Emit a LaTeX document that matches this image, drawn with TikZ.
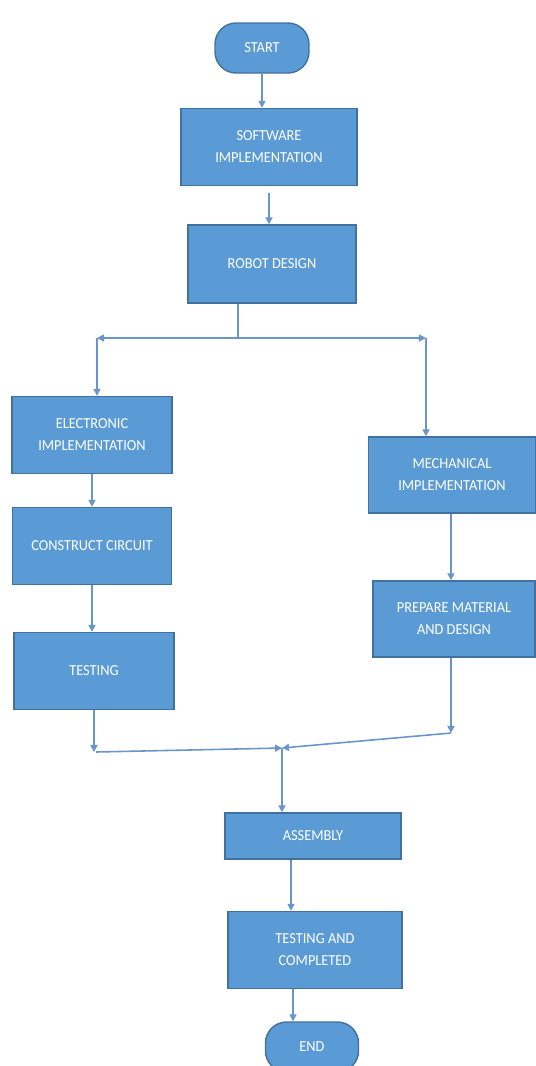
\documentclass[tikz,border=0pt]{standalone}
\usepackage{fontspec}
\setmainfont{Carlito}[FakeStretch=0.94]
\usepackage{tikz}
\usetikzlibrary{arrows.meta}

\definecolor{boxblue}{HTML}{5B9BD5}
\definecolor{boxedge}{HTML}{41719C}
\definecolor{lineblue}{HTML}{6A95C8}

\begin{document}
\begin{tikzpicture}[x=0.02cm, y=-0.02cm,
  box/.style={draw=boxedge, line width=0.8pt, fill=boxblue, text=white,
              align=center, font=\fontsize{8.7}{12.5}\selectfont, inner sep=0pt},
  term/.style={box, rounded corners=12pt},
  arr/.style={draw=lineblue, line width=0.9pt, -{Triangle[length=4pt,width=4pt]}},
  lin/.style={draw=lineblue, line width=0.9pt}]
\useasboundingbox (0,0) rectangle (536,1066);
\fill[white] (0,0) rectangle (536,1066);

\node [term, minimum width=1.88cm, minimum height=1.0cm]  (start) at (262,48)  {START};
\node [box, minimum width=3.52cm, minimum height=1.54cm]  (soft)  at (269,147) {SOFTWARE\\IMPLEMENTATION};
\node [box, minimum width=3.36cm, minimum height=1.56cm]  (robot) at (272,264) {ROBOT DESIGN};
\node [box, minimum width=3.2cm, minimum height=1.54cm]   (elec)  at (92,435)  {ELECTRONIC\\IMPLEMENTATION};
\node [box, minimum width=3.18cm, minimum height=1.54cm]  (cons)  at (92,546)  {CONSTRUCT CIRCUIT};
\node [box, minimum width=3.2cm, minimum height=1.54cm]   (test)  at (94,671)  {TESTING};
\node [box, minimum width=3.34cm, minimum height=1.52cm]  (mech)  at (452,475) {MECHANICAL\\IMPLEMENTATION};
\node [box, minimum width=3.24cm, minimum height=1.52cm]  (prep)  at (454,619) {PREPARE MATERIAL\\AND DESIGN};
\node [box, minimum width=3.52cm, minimum height=0.92cm]  (asm)   at (313,836) {ASSEMBLY};
\node [box, minimum width=3.48cm, minimum height=1.54cm]  (tc)    at (315,950) {TESTING AND\\COMPLETED};
\node [term, minimum width=1.86cm, minimum height=1.0cm]  (end)   at (312,1047) {END};

\coordinate (split)  at (238,338);
\coordinate (splitL) at (97,338);
\coordinate (splitR) at (426,338);
\coordinate (mergeL) at (96,752);
\coordinate (mergeR) at (451,733);
\coordinate (merge)  at (282,748);

\draw [arr] (start.south) -- (start.south |- soft.north);
\draw [arr] ([yshift=-0.14cm]soft.south) -- (soft.south |- robot.north);
\draw [lin] (split |- robot.south) -- (split);
\draw [arr] (split) -- (splitL);
\draw [arr] (split) -- (splitR);
\draw [arr] (splitL) -- (splitL |- elec.north);
\draw [arr] (splitR) -- (splitR |- mech.north);
\draw [arr] (elec.south) -- (cons.north);
\draw [arr] (cons.south) -- (cons.south |- test.north);
\draw [arr] (test.south) -- (test.south |- mergeL);
\draw [arr] (mergeR |- mech.south) -- (mergeR |- prep.north);
\draw [arr] (prep.south -| mergeR) -- (mergeR);
\draw [arr] (mergeL) -- (merge);
\draw [arr] (mergeR) -- (merge);
\draw [arr] (merge) -- (merge |- asm.north);
\draw [arr] ([xshift=-0.44cm]asm.south) -- ([xshift=-0.44cm]asm.south |- tc.north);
\draw [arr] ([xshift=-0.44cm]tc.south) -- ([xshift=-0.44cm]tc.south |- end.north);
\end{tikzpicture}
\end{document}
